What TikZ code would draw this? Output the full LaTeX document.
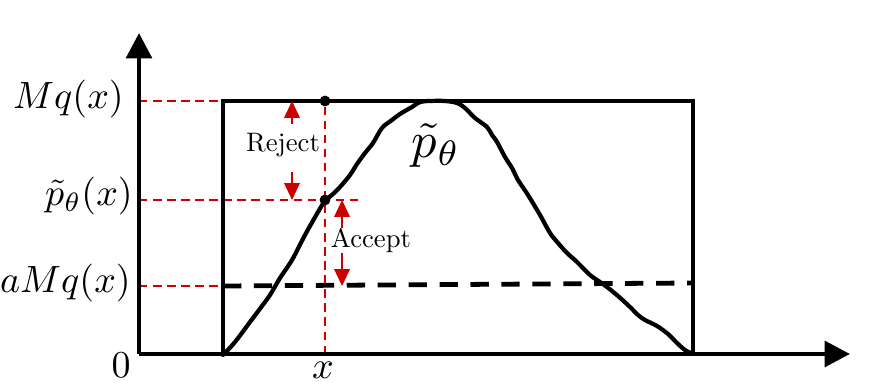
\documentclass[tikz,border=0pt]{standalone}
\usepackage{graphicx,amsmath,amssymb}
\usetikzlibrary{arrows.meta,positioning}
\definecolor{rsred}{RGB}{204,0,0}
\newcommand{\axlab}[1]{\scalebox{2.7}{$#1$}}
\newcommand{\wordlab}[1]{\scalebox{1.9}{#1}}
\tikzset{
  axisline/.style={line width=3.4pt, -{Triangle[length=18pt,width=18pt]}},
  boxline/.style={line width=3.4pt},
  aline/.style={line width=3.4pt, dash pattern=on 13pt off 9pt},
  rdash/.style={draw=rsred, line width=1.1pt, dash pattern=on 6pt off 4pt},
  rarr/.style={draw=rsred, line width=1.4pt, -{Triangle[length=12pt,width=11pt]}},
  vlab/.style={anchor=east, inner sep=0pt},
  wlab/.style={inner sep=0pt},
  pdot/.style={circle, fill=black, inner sep=0pt, minimum size=7.5pt},
}

\begin{document}
\begin{tikzpicture}[x=0.025cm, y=-0.025cm]
  \useasboundingbox (0,0) rectangle (880,385);

  % axes and box corners
  \coordinate (O) at (139,354);
  \coordinate (ytip) at (139,33);
  \coordinate (xtip) at (850,354);
  \coordinate (bl) at (223,354);
  \coordinate (tl) at (223,101);
  \coordinate (tr) at (693,101);
  \coordinate (br) at (693,354);
  \coordinate (aL) at (223,286);
  \coordinate (aR) at (693,283);
  \coordinate (pend) at (362,200);

  % labels on the axes
  \node[vlab] (lmq) at (124,99) {\axlab{Mq(x)}};
  \node[vlab] (lp) at (133,196) {\axlab{\tilde{p}_\theta(x)}};
  \node[vlab] (la) at (131,283) {\axlab{aMq(x)}};
  \node[vlab] (lzero) at (131,365) {\axlab{0}};

  % the sample x and its points
  \node[pdot] (dtop) at (325,101) {};
  \node[pdot] (dmid) at (325,200) {};
  \node[inner sep=0pt] (lx) at (323,370) {\axlab{x}};

  % red guide lines
  \draw[rdash] (O |- tl) -- (tl);
  \draw[rdash] (O |- dmid) -- (pend);
  \draw[rdash] (O |- aL) -- (aL);
  \draw[rdash] (dtop) -- (dtop |- O);

  % box, bound and axes
  \draw[boxline, line join=miter] (bl) -- (tl) -- (tr) -- (br);
  \draw[aline] (aL) -- (aR);
  \draw[axisline] (O) -- (ytip);
  \draw[axisline] (O) -- (xtip);

  % target density
  \draw[line width=3pt, line join=round, line cap=round] plot[smooth, tension=0.55] coordinates {
    (223,355) (235,342) (250,322) (262,306) (270,295) (280,278) (292,260)
    (305,235) (318,212) (325,201) (333,194) (340,187) (350,175) (357,164)
    (365,153) (373,143) (382,128) (392,120) (400,114) (412,107) (420,102)
    (430,101) (445,101) (457,103) (465,108) (475,118) (487,127) (492,135)
    (497,142) (505,157) (512,168) (518,180) (528,195) (540,215) (550,233)
    (558,243) (567,253) (577,262) (590,275) (600,282) (607,287) (618,296)
    (630,307) (638,315) (645,320) (657,326) (668,334) (677,343) (685,350)
    (693,354)};
  \node[inner sep=0pt] (lptilde) at (436,146) {\scalebox{3.6}{$\tilde{p}_\theta$}};

  \node[pdot] at (dtop) {};
  \node[pdot] at (dmid) {};

  % reject and accept
  \node[wlab] (rej) at (283,145) {\wordlab{Reject}};
  \node[wlab] (acc) at (371,241) {\wordlab{Accept}};
  \draw[rarr] ([xshift=6.4pt, yshift=6.4pt]rej.north) -- ([xshift=6.4pt]rej.north |- tl);
  \draw[rarr] ([xshift=6.4pt, yshift=-10.7pt]rej.south) -- ([xshift=6.4pt]rej.south |- dmid);
  \draw[rarr] ([xshift=-20.6pt, yshift=0.7pt]acc.north) -- ([xshift=-20.6pt]acc.north |- dmid);
  \draw[rarr] ([xshift=-20.6pt]acc.south) -- ([xshift=-20.6pt]acc.south |- aL);
\end{tikzpicture}
\end{document}
